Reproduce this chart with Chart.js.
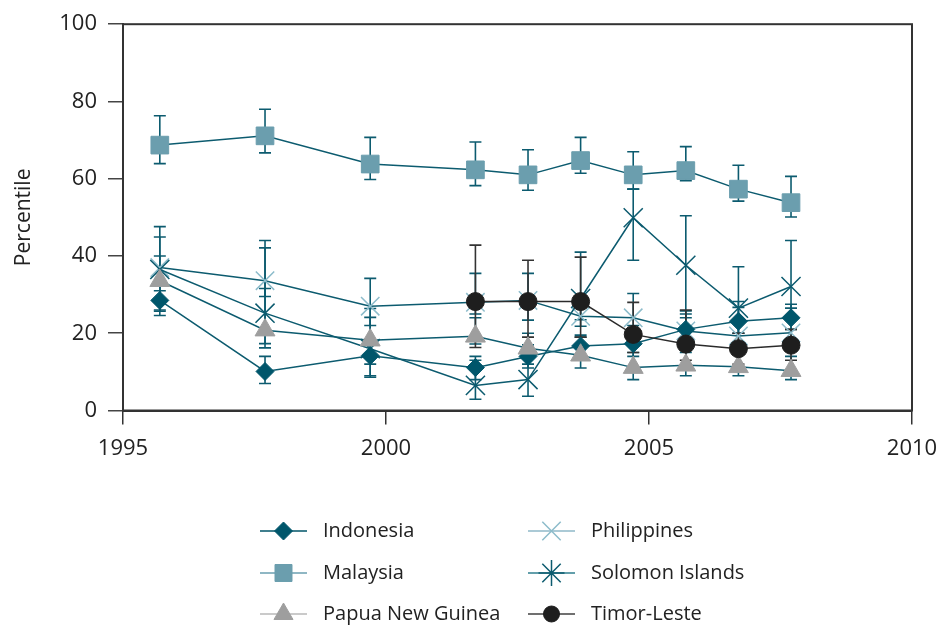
<!DOCTYPE html>
<html>
<head>
<meta charset="utf-8">
<script src="https://cdn.jsdelivr.net/npm/chart.js@4/dist/chart.umd.min.js"></script>
<style>
	html, body { margin: 0; padding: 0; background: #fff; }
</style>
</head>
<body>
<canvas id="chart" width="942" height="630"></canvas>
<script>
// позиции по оси X (точки стоят чуть левее делений лет, как на исходнике)
const years = [1995.7, 1997.7, 1999.7, 2001.7, 2002.7, 2003.7, 2004.7, 2005.7, 2006.7, 2007.7];

const indonesia = [28.5, 10.1, 14.2, 11.1, 14.0, 16.7, 17.3, 21.0, 23.1, 24.0];
const indonesiaLow = [24.6, 7, 9, 8, 11, 14, 14, 18, 20, 21];
const indonesiaHigh = [33, 14, 18, 14, 17, 19.5, 20, 25.8, 28.2, 27.5];

const malaysia = [68.7, 71.1, 63.8, 62.3, 61.0, 64.7, 61.0, 62.1, 57.3, 53.8];
const malaysiaLow = [63.9, 66.7, 59.8, 58.2, 57.0, 61.4, 57.3, 59.5, 54.2, 50.1];
const malaysiaHigh = [76.3, 78.0, 70.7, 69.5, 67.5, 70.7, 67.0, 68.3, 63.5, 60.6];

const png = [33.6, 20.8, 18.2, 19.2, 16.1, 14.3, 11.1, 11.7, 11.3, 10.3];
const pngLow = [25.7, 17.3, 12, 17.2, 12, 11, 8, 9, 9, 8];
const pngHigh = [40, 31.6, 24.1, 24, 20, 19, 15, 15, 15, 14];

const philippines = [37.0, 33.6, 27.0, 28.0, 28.5, 24.4, 24.0, 20.6, 19.3, 20.1];
const philippinesLow = [31, 29.5, 22, 25, 23.4, 21.8, 22, 17, 16, 17];
const philippinesHigh = [44.9, 42.1, 34.2, 35.5, 35.5, 28, 30.3, 25, 26.7, 24];

const solomon = [36.5, 25.2, 16.0, 6.5, 8.0, 29.0, 49.9, 37.6, 26.5, 32.1];
const solomonLow = [26, 16.2, 8.6, 2.9, 3.7, 23.5, 38.9, 24, 20, 26.5];
const solomonHigh = [47.6, 44, 26.4, 13, 15, 41, 57.3, 50.4, 37.2, 44];

const timor = [null, null, null, 28.2, 28.2, 28.2, 19.7, 17.2, 16.0, 16.9];
const timorLow = [null, null, null, 16.3, 19, 19, 15, 13, 12, 13];
const timorHigh = [null, null, null, 42.8, 38.9, 39.7, 28, 26, 20, 21];

const TEAL = '#0c5b6f';
const toPoints = (vals) => years.map((x, i) => ({ x: x, y: vals[i] }));

// рамка вокруг поля диаграммы
const chartAreaBorder = {
	id: 'chartAreaBorder',
	beforeDatasetsDraw(chart, args, options) {
		const { ctx, chartArea: { left, top, width, height } } = chart;
		ctx.save();
		ctx.strokeStyle = options.borderColor;
		ctx.lineWidth = options.borderWidth;
		ctx.strokeRect(left, top, width, height);
		ctx.restore();
	},
};

// планки погрешностей
const errorBars = {
	id: 'errorBars',
	beforeDatasetsDraw(chart, args, options) {
		const { ctx, scales: { x, y } } = chart;
		const cap = options.capWidth;
		ctx.save();
		ctx.beginPath();
		ctx.rect(chart.chartArea.left, chart.chartArea.top, chart.chartArea.width, chart.chartArea.height);
		ctx.clip();
		chart.data.datasets.forEach((ds) => {
			ctx.strokeStyle = ds.errColor;
			ctx.lineWidth = options.lineWidth;
			ds.data.forEach((p, i) => {
				if (p.y == null) return;
				const px = x.getPixelForValue(p.x);
				const y1 = y.getPixelForValue(ds.errLow[i]);
				const y2 = y.getPixelForValue(ds.errHigh[i]);
				ctx.beginPath();
				ctx.moveTo(px, y1); ctx.lineTo(px, y2);
				ctx.moveTo(px - cap, y1); ctx.lineTo(px + cap, y1);
				ctx.moveTo(px - cap, y2); ctx.lineTo(px + cap, y2);
				ctx.stroke();
			});
		});
		ctx.restore();
	},
};

// легенда: линия + маркер, две колонки по три строки
const lineLegend = {
	id: 'lineLegend',
	afterDraw(chart, args, options) {
		const { ctx } = chart;
		ctx.save();
		chart.data.datasets.forEach((ds, k) => {
			const x0 = options.columns[Math.floor(k / 3)];
			const yy = options.rows[k % 3];
			ctx.strokeStyle = ds.legendLineColor;
			ctx.lineWidth = 1.5;
			ctx.beginPath();
			ctx.moveTo(x0, yy);
			ctx.lineTo(x0 + options.lineLength, yy);
			ctx.stroke();
			ctx.fillStyle = ds.pointBackgroundColor;
			ctx.strokeStyle = ds.pointBorderColor;
			ctx.lineWidth = ds.pointBorderWidth;
			Chart.helpers.drawPoint(ctx, {
				pointStyle: ds.legendPointStyle || ds.pointStyle,
				radius: ds.legendRadius,
				rotation: 0,
				borderWidth: ds.pointBorderWidth,
			}, x0 + options.lineLength / 2, yy);
			ctx.fillStyle = '#222';
			ctx.font = options.font;
			ctx.textBaseline = 'middle';
			ctx.textAlign = 'left';
			ctx.fillText(ds.label, x0 + options.lineLength + options.textGap, yy);
		});
		ctx.restore();
	},
};

Chart.defaults.font.family = 'Open Sans';
Chart.defaults.color = '#222';

const datasets = [
	{
		label: 'Indonesia', data: toPoints(indonesia), errLow: indonesiaLow, errHigh: indonesiaHigh,
		borderColor: TEAL, errColor: TEAL, legendLineColor: '#005468',
		pointStyle: 'rectRot', pointRadius: 9, legendRadius: 9,
		pointBackgroundColor: '#00566b', pointBorderColor: '#00566b', pointBorderWidth: 1, order: 2,
	},
	{
		label: 'Malaysia', data: toPoints(malaysia), errLow: malaysiaLow, errHigh: malaysiaHigh,
		borderColor: TEAL, errColor: TEAL, legendLineColor: '#6a9fb0',
		pointStyle: 'rect', pointRadius: 12.5, legendRadius: 12,
		pointBackgroundColor: '#6b9eae', pointBorderColor: '#6b9eae', pointBorderWidth: 1, order: 5,
	},
	{
		label: 'Papua New Guinea', data: toPoints(png), errLow: pngLow, errHigh: pngHigh,
		borderColor: TEAL, errColor: TEAL, legendLineColor: '#b8b8b8',
		pointStyle: 'triangle', pointRadius: 11.5, legendRadius: 11,
		pointBackgroundColor: '#9e9e9e', pointBorderColor: '#9e9e9e', pointBorderWidth: 1, order: 1,
	},
	{
		label: 'Philippines', data: toPoints(philippines), errLow: philippinesLow, errHigh: philippinesHigh,
		borderColor: TEAL, errColor: TEAL, legendLineColor: '#8fb8c8',
		pointStyle: 'crossRot', pointRadius: 13, legendRadius: 13,
		pointBackgroundColor: '#8dbccb', pointBorderColor: '#8dbccb', pointBorderWidth: 1.5, order: 4,
	},
	{
		label: 'Solomon Islands', data: toPoints(solomon), errLow: solomonLow, errHigh: solomonHigh,
		borderColor: TEAL, errColor: TEAL, legendLineColor: '#2f7f8f',
		pointStyle: 'crossRot', legendPointStyle: 'star', pointRadius: 13.5, legendRadius: 13,
		pointBackgroundColor: TEAL, pointBorderColor: TEAL, pointBorderWidth: 1.5, order: 3,
	},
	{
		label: 'Timor-Leste', data: toPoints(timor), errLow: timorLow, errHigh: timorHigh,
		borderColor: '#2b2b2b', errColor: '#333', legendLineColor: '#404040',
		pointStyle: 'circle', pointRadius: 9, legendRadius: 8,
		pointBackgroundColor: '#1e1e1e', pointBorderColor: '#1e1e1e', pointBorderWidth: 1, order: 0,
	},
];
datasets.forEach((ds) => {
	ds.borderWidth = 1.5;
	ds.pointHoverRadius = ds.pointRadius;
	ds.tension = 0;
});

new Chart(document.getElementById('chart'), {
	type: 'line',
	data: { datasets: datasets },
	options: {
		responsive: false,
		animation: false,
		layout: { padding: { left: 11, right: 30, top: 19, bottom: 164.5 } },
		plugins: {
			legend: { display: false },
			tooltip: { enabled: false },
			chartAreaBorder: { borderColor: '#333', borderWidth: 2 },
			errorBars: { lineWidth: 1.6, capWidth: 6 },
			lineLegend: {
				columns: [260, 528],
				rows: [531, 573, 614],
				lineLength: 47,
				textGap: 16,
				font: '20px "Open Sans"',
			},
		},
		scales: {
			x: {
				type: 'linear',
				min: 1995,
				max: 2010,
				border: { color: '#333', width: 2 },
				grid: { drawOnChartArea: false, tickLength: 14, color: '#333', lineWidth: 1.5 },
				ticks: {
					stepSize: 5,
					padding: 11,
					font: { size: 22 },
					maxRotation: 0,
					callback: (v) => String(v),
				},
				// фиксируем высоту оси и убираем лишний отступ справа от подписи 2010
				afterFit: (scale) => {
					scale.height = 55;
					scale.paddingLeft = 0;
					scale.paddingRight = 0;
				},
			},
			y: {
				min: 0,
				max: 100,
				border: { color: '#333', width: 2 },
				grid: { drawOnChartArea: false, tickLength: 15, color: '#444', lineWidth: 1.5 },
				ticks: { stepSize: 20, padding: 11, font: { size: 22 } },
				title: {
					display: true,
					text: 'Percentile',
					font: { size: 21 },
					padding: { top: 0, bottom: 0 },
				},
				afterFit: (scale) => { scale.width = 112; },
			},
		},
	},
	plugins: [chartAreaBorder, errorBars, lineLegend],
});
</script>
</body>
</html>
